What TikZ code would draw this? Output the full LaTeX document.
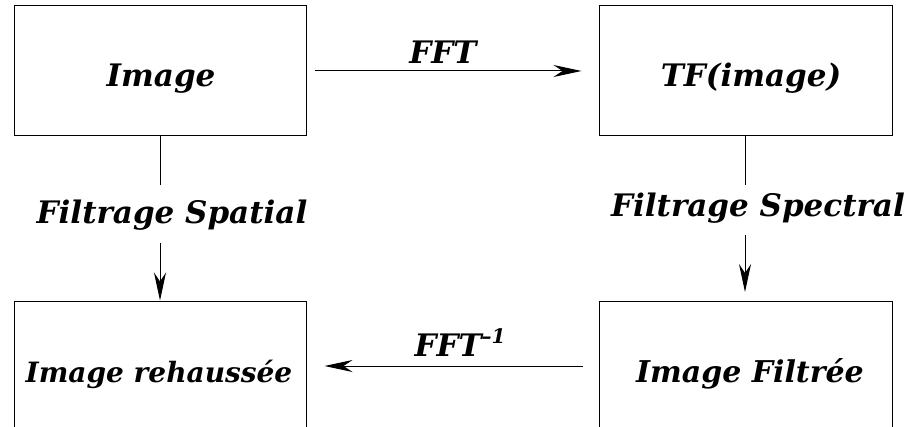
\documentclass[tikz,border=0pt]{standalone}
\usepackage{fontspec}
\setmainfont{DejaVu Serif}
\usetikzlibrary{arrows.meta}
\tikzset{
  box/.style={draw=black, line width=1pt, minimum width=292pt, minimum height=130pt, inner sep=0pt},
  lbl/.style={font=\fontsize{31}{34}\selectfont\bfseries\itshape, anchor=base, inner sep=0pt},
  arr/.style={line width=1pt, -{Stealth[length=28pt,width=12pt,inset=9pt]}},
  ln/.style={line width=1pt}
}
\begin{document}
\begin{tikzpicture}[x=1pt,y=-1pt]
\useasboundingbox (0,0) rectangle (909,427);
\node[box] (tl) at (160,71) {};
\node[box,minimum width=293pt] (tr) at (745.5,71) {};
\node[box] (bl) at (160,366) {};
\node[box,minimum width=293pt] (br) at (745.5,366) {};
\node[lbl] (t1) at (161,87) {Image};
\node[lbl] (t2) at (751,87) {TF(image)};
\node[lbl,font=\fontsize{28}{31}\selectfont\bfseries\itshape] (t3) at (159,382) {Image rehaussée};
\node[lbl,font=\fontsize{30}{33}\selectfont\bfseries\itshape] (t4) at (750,382) {Image Filtrée};
\node[lbl] (fft) at (443,64) {FFT};
\node[lbl] (ifft) at (460,356) {FFT\raisebox{0.4em}{\fontsize{20}{20}\selectfont –1}};
\node[lbl] (fsa) at (172,224) {Filtrage Spatial};
\node[lbl] (fse) at (758,217) {Filtrage Spectral};
\coordinate (la) at (160,185);
\coordinate (lb) at (160,243);
\coordinate (ra) at (745,185);
\coordinate (rb) at (745,235);
\coordinate (rc) at (745,292);
\draw[arr] ([xshift=8pt]tl.east) -- ([xshift=-17pt]tr.west);
\draw[arr] ([xshift=-16pt]br.west) -- ([xshift=18pt]bl.east);
\draw[ln] (tl.south) -- (la);
\draw[arr] (lb) -- (bl.north);
\draw[ln] (tr.south -| ra) -- (ra);
\draw[arr] (rb) -- (rc);
\end{tikzpicture}
\end{document}
